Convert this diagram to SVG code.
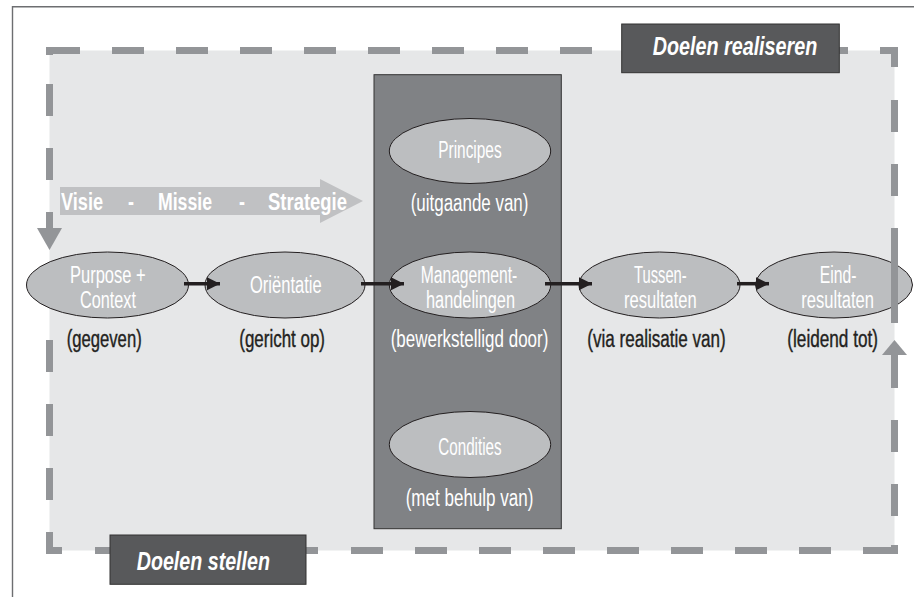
<svg xmlns="http://www.w3.org/2000/svg" width="914" height="597" viewBox="0 0 914 597">
<defs>
<style>
.frame{stroke:#6d6e71;stroke-width:1.4;fill:none}
.dash{fill:#939598}
.node{fill:#bcbec0;stroke:#231f20;stroke-width:1}
.wt{font-family:"Liberation Sans",Arial,sans-serif;font-size:23.5px;fill:#ffffff}
.bt{font-family:"Liberation Sans",Arial,sans-serif;font-size:23px;fill:#231f20;stroke:#231f20;stroke-width:0.4}
.vt{font-family:"Liberation Sans",Arial,sans-serif;font-size:23px;font-weight:bold;fill:#ffffff}
.tt{font-family:"Liberation Sans",Arial,sans-serif;font-size:26px;font-weight:bold;font-style:italic;fill:#ffffff}
.lbl{fill:#58595b;stroke:#333333;stroke-width:1}
.conn{stroke:#231f20;stroke-width:3.5;fill:none}
</style>
<marker id="ah" markerUnits="userSpaceOnUse" markerWidth="14" markerHeight="14" refX="13" refY="6.5" orient="auto">
<path d="M0,0 L13,6.5 L0,13 z" fill="#231f20"/>
</marker>
</defs>
<rect width="914" height="597" fill="#ffffff"/>
<!-- frame -->
<path class="frame" d="M12.5,597 V6.7 H914"/>
<!-- goal region -->
<rect x="49.5" y="50.5" width="845" height="500" fill="#e6e7e8"/>
<g id="border">
<!-- top -->
<rect class="dash" x="46" y="47" width="34" height="7"/>
<rect class="dash" x="112" y="47" width="32" height="7"/>
<rect class="dash" x="176" y="47" width="32" height="7"/>
<rect class="dash" x="240" y="47" width="32" height="7"/>
<rect class="dash" x="304" y="47" width="32" height="7"/>
<rect class="dash" x="368" y="47" width="32" height="7"/>
<rect class="dash" x="432" y="47" width="32" height="7"/>
<rect class="dash" x="496" y="47" width="32" height="7"/>
<rect class="dash" x="560" y="47" width="32" height="7"/>
<rect class="dash" x="816" y="47" width="32" height="7"/>
<rect class="dash" x="880" y="47" width="18" height="7"/>
<!-- right -->
<rect class="dash" x="891" y="47" width="7" height="20"/>
<rect class="dash" x="891" y="100" width="7" height="32"/>
<rect class="dash" x="891" y="164" width="7" height="32"/>
<rect class="dash" x="891" y="355" width="7" height="33"/>
<polygon class="dash" points="882,355 894.5,340 907,355"/>
<rect class="dash" x="891" y="420" width="7" height="32"/>
<rect class="dash" x="891" y="484" width="7" height="32"/>
<rect class="dash" x="891" y="545" width="7" height="9"/>
<!-- left -->
<rect class="dash" x="46" y="47" width="7" height="8"/>
<rect class="dash" x="46" y="84" width="7" height="32"/>
<rect class="dash" x="46" y="148" width="7" height="32"/>
<rect class="dash" x="46" y="212" width="7" height="18"/>
<polygon class="dash" points="37,228 62,228 49.5,250"/>
<rect class="dash" x="46" y="340" width="7" height="32"/>
<rect class="dash" x="46" y="404" width="7" height="32"/>
<rect class="dash" x="46" y="468" width="7" height="32"/>
<rect class="dash" x="46" y="532" width="7" height="22"/>
<!-- bottom -->
<rect class="dash" x="46" y="547" width="16" height="7"/>
<rect class="dash" x="95" y="547" width="32" height="7"/>
<rect class="dash" x="287" y="547" width="31" height="7"/>
<rect class="dash" x="351" y="547" width="32" height="7"/>
<rect class="dash" x="415" y="547" width="32" height="7"/>
<rect class="dash" x="479" y="547" width="32" height="7"/>
<rect class="dash" x="543" y="547" width="32" height="7"/>
<rect class="dash" x="607" y="547" width="32" height="7"/>
<rect class="dash" x="671" y="547" width="32" height="7"/>
<rect class="dash" x="735" y="547" width="32" height="7"/>
<rect class="dash" x="799" y="547" width="32" height="7"/>
<rect class="dash" x="863" y="547" width="35" height="7"/>
</g>
<!-- vision arrow -->
<g id="visie">
<polygon points="60,187 320,187 320,179 363,201 320,223 320,215 60,215" fill="#c0c1c3"/>
<text class="vt" x="61" y="209.5" textLength="42" lengthAdjust="spacingAndGlyphs">Visie</text>
<text class="vt" x="128" y="209.5" textLength="6" lengthAdjust="spacingAndGlyphs">-</text>
<text class="vt" x="158" y="209.5" textLength="54" lengthAdjust="spacingAndGlyphs">Missie</text>
<text class="vt" x="239" y="209.5" textLength="6" lengthAdjust="spacingAndGlyphs">-</text>
<text class="vt" x="268" y="209.5" textLength="79" lengthAdjust="spacingAndGlyphs">Strategie</text>
</g>
<!-- middle column -->
<g id="kolom">
<rect x="374" y="74.7" width="187.3" height="454" fill="#808285" stroke="#333333" stroke-width="1"/>
</g>
<g id="principes">
<ellipse class="node" cx="470" cy="151" rx="80.7" ry="32.5"/>
<text class="wt" x="438.3" y="157.5" textLength="63.3" lengthAdjust="spacingAndGlyphs">Principes</text>
<text class="wt" x="410.7" y="210.5" textLength="117.7" lengthAdjust="spacingAndGlyphs">(uitgaande van)</text>
</g>
<g id="condities">
<ellipse class="node" cx="470" cy="444.5" rx="80.7" ry="33"/>
<text class="wt" x="438.3" y="454.5" textLength="63.3" lengthAdjust="spacingAndGlyphs">Condities</text>
<text class="wt" x="405.7" y="505.5" textLength="127.7" lengthAdjust="spacingAndGlyphs">(met behulp van)</text>
</g>
<g id="purpose">
<ellipse class="node" cx="107.5" cy="285" rx="81" ry="33"/>
<text class="wt" x="70" y="282.5" textLength="75.7" lengthAdjust="spacingAndGlyphs">Purpose +</text>
<text class="wt" x="80" y="307.5" textLength="56" lengthAdjust="spacingAndGlyphs">Context</text>
<text class="bt" x="66.7" y="346.5" textLength="75" lengthAdjust="spacingAndGlyphs">(gegeven)</text>
</g>
<g id="orientatie">
<ellipse class="node" cx="285" cy="285" rx="80" ry="33"/>
<text class="wt" x="250" y="293" textLength="71.7" lengthAdjust="spacingAndGlyphs">Oriëntatie</text>
<text class="bt" x="239.3" y="346.5" textLength="85.7" lengthAdjust="spacingAndGlyphs">(gericht op)</text>
</g>
<g id="management">
<ellipse class="node" cx="470" cy="285" rx="80.7" ry="33"/>
<text class="wt" x="420.7" y="282.5" textLength="96.6" lengthAdjust="spacingAndGlyphs">Management-</text>
<text class="wt" x="426" y="307.5" textLength="89" lengthAdjust="spacingAndGlyphs">handelingen</text>
<text class="wt" transform="translate(390.7,346.5) scale(0.723,1)" x="0" y="0">(bewerkstelligd door)</text>
</g>
<g id="tussen">
<ellipse class="node" cx="659.5" cy="285" rx="80.5" ry="33"/>
<text class="wt" x="634" y="282.5" textLength="52.7" lengthAdjust="spacingAndGlyphs">Tussen-</text>
<text class="wt" x="624" y="307.5" textLength="72.7" lengthAdjust="spacingAndGlyphs">resultaten</text>
<text class="bt" x="587.3" y="346.5" textLength="138.3" lengthAdjust="spacingAndGlyphs">(via realisatie van)</text>
</g>
<g id="eind">
<ellipse class="node" cx="834" cy="285" rx="78.5" ry="33"/>
<text class="wt" x="819.7" y="282.5" textLength="36.7" lengthAdjust="spacingAndGlyphs">Eind-</text>
<text class="wt" x="801.3" y="307.5" textLength="72.7" lengthAdjust="spacingAndGlyphs">resultaten</text>
<text class="bt" x="787.3" y="346.5" textLength="90.7" lengthAdjust="spacingAndGlyphs">(leidend tot)</text>
</g>
<!-- right border segment drawn over the Eind node -->
<rect class="dash" x="891" y="228" width="7" height="95"/>
<g id="connectors">
<line class="conn" x1="184" y1="283.7" x2="220" y2="283.7" marker-end="url(#ah)"/>
<line class="conn" x1="361" y1="283.7" x2="404" y2="283.7" marker-end="url(#ah)"/>
<line class="conn" x1="545" y1="283.7" x2="592" y2="283.7" marker-end="url(#ah)"/>
<line class="conn" x1="737" y1="283.7" x2="769" y2="283.7" marker-end="url(#ah)"/>
</g>
<g id="doelen-realiseren">
<rect class="lbl" x="621.7" y="24" width="217.6" height="48.7"/>
<text class="tt" x="652.7" y="54.5" textLength="164.6" lengthAdjust="spacingAndGlyphs">Doelen realiseren</text>
</g>
<g id="doelen-stellen">
<rect class="lbl" x="110" y="535" width="196" height="49.3"/>
<text class="tt" x="136.7" y="569.5" textLength="133.3" lengthAdjust="spacingAndGlyphs">Doelen stellen</text>
</g>
</svg>
